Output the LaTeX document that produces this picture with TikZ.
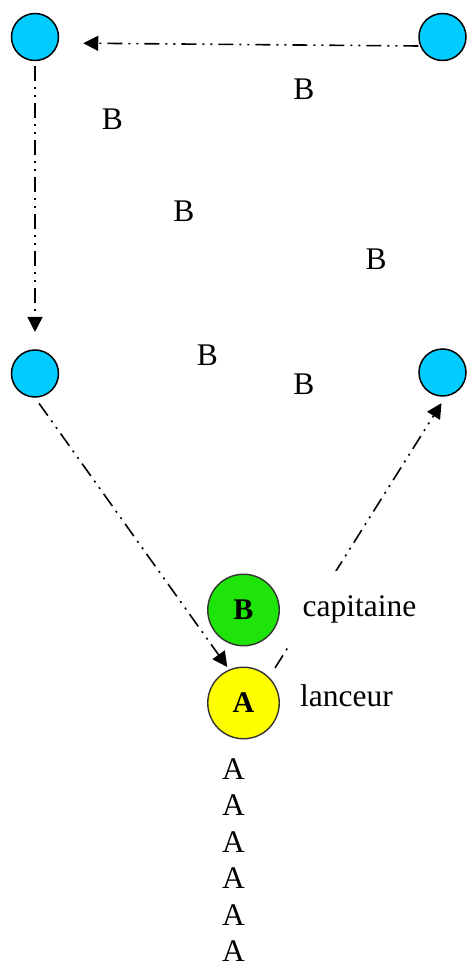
\documentclass[tikz,border=0pt]{standalone}
\usepackage{fontspec}
\setmainfont{Liberation Serif}
\usetikzlibrary{arrows.meta}

\definecolor{baseblue}{RGB}{0,204,255}
\definecolor{capgreen}{RGB}{30,228,10}
\definecolor{pitchyellow}{RGB}{255,255,0}
\definecolor{rimgray}{RGB}{51,51,51}

\tikzset{
  base/.style={circle, draw=black, line width=1.5pt, fill=baseblue,
    minimum size=47pt, inner sep=0pt},
  player/.style={circle, draw=rimgray, line width=1.4pt,
    minimum size=71.5pt, inner sep=0pt,
    font=\fontsize{30}{30}\selectfont\bfseries},
  runner/.style={inner sep=0pt, anchor=base,
    font=\fontsize{31.5}{36}\selectfont},
  role/.style={inner sep=0pt, anchor=base west,
    font=\fontsize{31.5}{36}\selectfont},
  runpath/.style={line width=1.6pt, line cap=butt,
    dash pattern=on 15pt off 6pt on 2pt off 6pt on 2pt off 6pt,
    -{Triangle[length=15pt,width=15pt]}},
}

\begin{document}
\begin{tikzpicture}[x=1pt, y=-1pt]
  \useasboundingbox (0,0) rectangle (468,965);

  % bases
  \node[base] (tl) at (35,37) {};
  \node[base] (tr) at (442.5,37) {};
  \node[base] (ml) at (35,373.5) {};
  \node[base] (mr) at (442.5,372.5) {};

  % batter and captain
  \node[player, fill=capgreen] (capt) at (243.5,610) {B};
  \node[player, fill=pitchyellow] (bat) at (243.5,703) {A};

  % fielders
  \node[runner] (b1) at (112.5,130) {B};
  \node[runner] (b2) at (304,100) {B};
  \node[runner] (b3) at (184,221.5) {B};
  \node[runner] (b4) at (376,269.5) {B};
  \node[runner] (b5) at (207.5,365) {B};
  \node[runner] (b6) at (304,394) {B};

  % waiting batters
  \node[runner] (a1) at (233.5,779) {A};
  \node[runner] (a2) at (233.5,815.5) {A};
  \node[runner] (a3) at (233.5,852) {A};
  \node[runner] (a4) at (233.5,888.5) {A};
  \node[runner] (a5) at (233.5,925) {A};
  \node[runner] (a6) at (233.5,961.5) {A};

  % running path round the bases
  \draw[runpath, shorten <=41.3pt, shorten >=7.5pt]
    ([xshift=9.5pt]bat.center) -- ([xshift=3pt]mr.south);
  \draw[runpath, shorten >=24pt]
    ([yshift=-9pt]tr.west) -- ([yshift=-6pt]tl.east);
  \draw[runpath, shorten <=5pt, shorten >=17.3pt]
    (tl.south) -- (ml.north);
  \draw[runpath, shorten <=7pt, shorten >=44.3pt]
    (ml.south) -- ([xshift=9.5pt]bat.center);

  % role labels
  \node[role, fill=white, inner xsep=16pt, inner ysep=25pt] (cap)
    at (286.5,616.7) {capitaine};
  \node[role] (lan) at (300,706) {lanceur};
\end{tikzpicture}
\end{document}
